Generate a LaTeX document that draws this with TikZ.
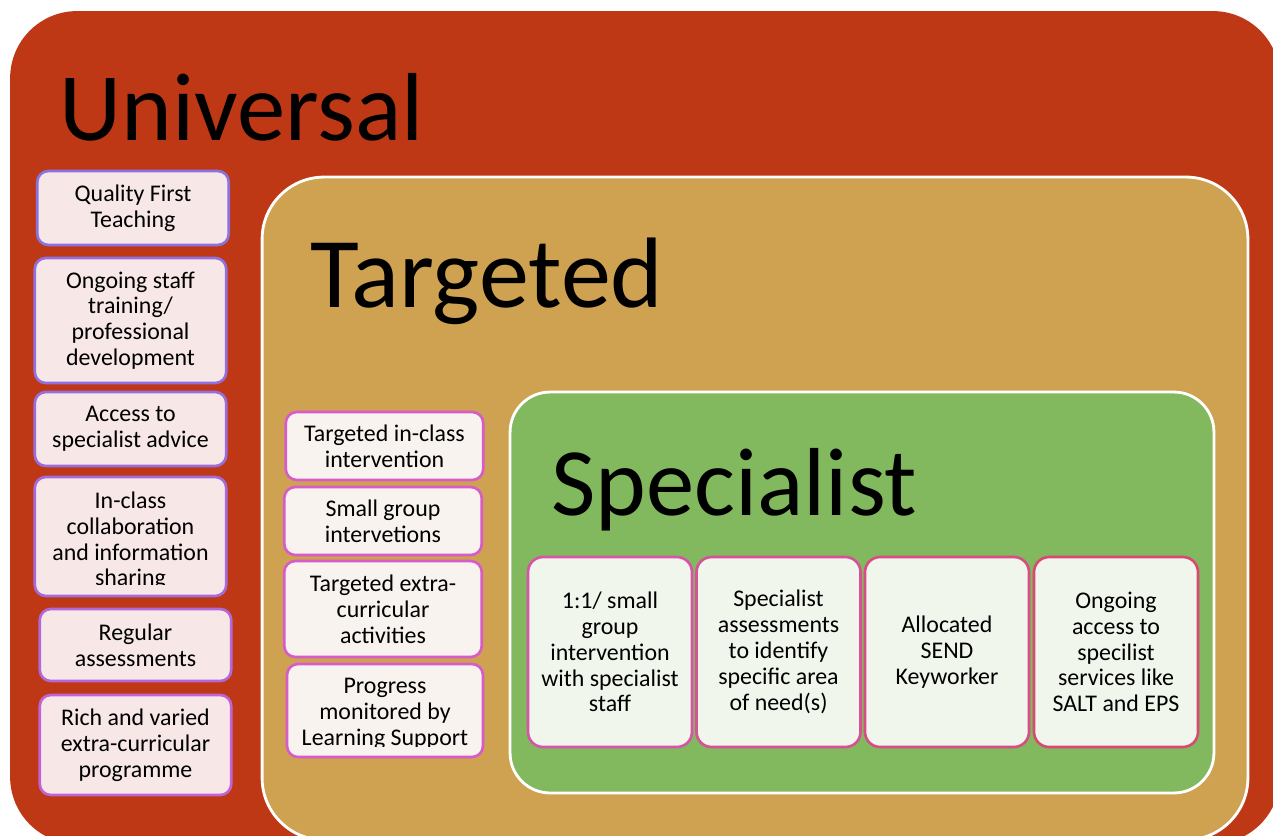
\documentclass[tikz,border=0pt]{standalone}
\usepackage{fontspec}
\setmainfont{Carlito}
\usepackage{tikz}
\definecolor{univred}{HTML}{BF3815}
\definecolor{targtan}{HTML}{CEA251}
\definecolor{specgreen}{HTML}{82B85E}
\definecolor{ufill}{HTML}{F7E7E7}
\definecolor{tfill}{HTML}{F8F3EE}
\definecolor{sfill}{HTML}{F1F6EC}
\definecolor{ulinetop}{HTML}{8A72E0}
\definecolor{ulinebot}{HTML}{C163D6}
\definecolor{tline}{HTML}{D75BC9}
\definecolor{slineleft}{HTML}{D655A8}
\definecolor{slineright}{HTML}{D84A72}

\begin{document}
\begin{tikzpicture}[x=0.02cm, y=-0.02cm,
  panel/.style={draw=white, line width=1.6pt},
  title/.style={anchor=base west, inner sep=0pt, font=\fontsize{55}{60}\selectfont},
  item/.style={rounded corners=0.22cm, line width=1.5pt, align=center, inner sep=0pt,
    font=\fontsize{13.6}{14.7}\selectfont},
  ubox/.style={item, fill=ufill, minimum width=3.83cm},
  tbox/.style={item, draw=tline, fill=tfill, minimum width=3.95cm},
  sbox/.style={item, fill=sfill, minimum width=3.28cm, minimum height=3.8cm, rounded corners=0.3cm}]
\useasboundingbox (0,0) rectangle (1273,835);
\fill[white] (0,0) rectangle (1273,835);
\clip (0,0) rectangle (1273,835);

% nested panels
\node[fill=univred, rounded corners=1.34cm, minimum width=25.4cm, minimum height=16.66cm] (universal) at (645,427.5) {};
\node[panel, fill=targtan, rounded corners=1.24cm, minimum width=19.72cm, minimum height=13.26cm] (targeted) at (755,508.5) {};
\node[panel, fill=specgreen, rounded corners=0.8cm, minimum width=14.08cm, minimum height=8.02cm] (specialist) at (862,592.5) {};

\node[title] (univtitle) at (59,140) {Universal};
\node[title, font=\fontsize{57}{60}\selectfont] (targtitle) at (310,307) {Targeted};
\node[title] (spectitle) at (551,515) {Specialist};

% universal column
\node[ubox, draw=ulinebot!0!ulinetop, minimum height=1.48cm] (u1) at (133,208) {Quality First\\Teaching};
\node[ubox, draw=ulinebot!15!ulinetop, minimum height=2.5cm] (u2) at (130.5,320.5) {Ongoing staff\\training/\\professional\\development};
\node[ubox, draw=ulinebot!30!ulinetop, minimum height=1.48cm] (u3) at (130.5,429) {Access to\\specialist advice};
\node[ubox, draw=ulinebot!50!ulinetop, minimum height=2.38cm] (u4) at (130.5,536.5) {};
\begin{scope}
\clip (30,470) rectangle (235,584);
\node[item] (u4text) at (130.5,541) {In-class\\collaboration\\and information\\sharing};
\end{scope}
\node[ubox, draw=ulinebot!75!ulinetop, minimum height=1.44cm] (u5) at (135.5,645) {Regular\\assessments};
\node[ubox, draw=ulinebot, minimum height=2.0cm] (u6) at (135.5,745) {Rich and varied\\extra-curricular\\programme};

% targeted column
\node[tbox, minimum height=1.36cm] (t1) at (384.5,446) {Targeted in-class\\intervention};
\node[tbox, minimum height=1.36cm] (t2) at (383,521) {Small group\\intervetions};
\node[tbox, minimum height=1.92cm] (t3) at (383,609) {Targeted extra-\\curricular\\activities};
\node[tbox, minimum height=1.86cm, minimum width=3.92cm] (t4) at (385,710.5) {};
\begin{scope}
\clip (280,660) rectangle (490,746);
\node[item] (t4text) at (385,714) {Progress\\monitored by\\Learning Support};
\end{scope}

% specialist row
\node[sbox, draw=slineleft] (s1) at (610,652) {1:1/ small\\group\\intervention\\with specialist\\staff};
\node[sbox, draw=slineright!33!slineleft] (s2) at (778.5,652) {Specialist\\assessments\\to identify\\specific area\\of need(s)};
\node[sbox, draw=slineright!66!slineleft] (s3) at (947,652) {Allocated\\SEND\\Keyworker};
\node[sbox, draw=slineright] (s4) at (1116,652) {Ongoing\\access to\\specilist\\services like\\SALT and EPS};
\end{tikzpicture}
\end{document}
